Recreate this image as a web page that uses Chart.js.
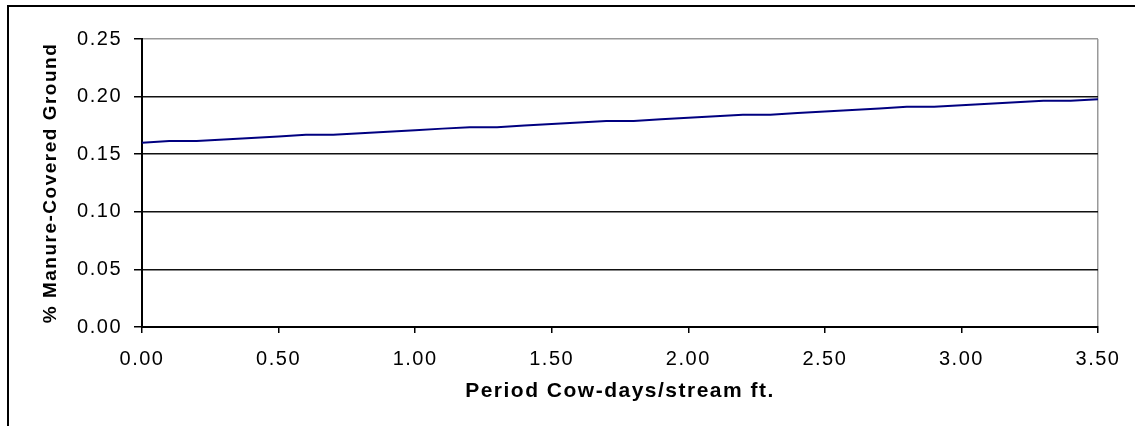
<!DOCTYPE html>
<html>
<head>
<meta charset="utf-8">
<script src="https://cdn.jsdelivr.net/npm/chart.js@4.4.0/dist/chart.umd.min.js"></script>
<style>
  html, body { margin: 0; padding: 0; background: #fff; }
  #wrap { position: relative; width: 1135px; height: 426px; overflow: hidden; }
  #frame {
    position: absolute; left: 7px; top: 5px; width: 1200px; height: 500px;
    border-left: 2px solid #000; border-top: 2px solid #000;
  }
  canvas { position: absolute; left: 0; top: 0; }
</style>
</head>
<body>
<div id="wrap">
  <div id="frame"></div>
  <canvas id="chart" width="1135" height="426"></canvas>
</div>
<script>
// period cow-days per stream foot
const cowDays = [0.0, 0.1, 0.2, 0.3, 0.4, 0.5, 0.6, 0.7, 0.8, 0.9,
                 1.0, 1.1, 1.2, 1.3, 1.4, 1.5, 1.6, 1.7, 1.8, 1.9,
                 2.0, 2.1, 2.2, 2.3, 2.4, 2.5, 2.6, 2.7, 2.8, 2.9,
                 3.0, 3.1, 3.2, 3.3, 3.4, 3.5];
// fraction of ground covered by manure
const manureCovered = [0.1600, 0.1614, 0.1614, 0.1627, 0.1641, 0.1654, 0.1668, 0.1668, 0.1681, 0.1695,
                       0.1708, 0.1722, 0.1735, 0.1735, 0.1749, 0.1762, 0.1776, 0.1789, 0.1789, 0.1803,
                       0.1816, 0.1830, 0.1843, 0.1843, 0.1857, 0.1870, 0.1884, 0.1897, 0.1911, 0.1911,
                       0.1924, 0.1938, 0.1951, 0.1965, 0.1965, 0.1978];

const yTitle = "% Manure-Covered Ground";
const xTitle = "Period Cow-days/stream ft.";

const FONT = "'Liberation Sans', Arial, sans-serif";

// the original text is set a bit wider than plain Arial
const wideText = {
  id: "wideText",
  beforeDraw(chart) {
    chart.ctx.letterSpacing = "1.5px";
  },
};

const ctx = document.getElementById("chart").getContext("2d");
const points = cowDays.map((x, i) => ({ x: x, y: manureCovered[i] }));

new Chart(ctx, {
  type: "line",
  data: {
    datasets: [
      {
        data: points,
        borderColor: "#000080",
        borderWidth: 2,
        pointRadius: 0,
        tension: 0,
      },
    ],
  },
  options: {
    responsive: false,
    animation: false,
    layout: { padding: { left: 0, top: 39, right: 37, bottom: 0 } },
    plugins: {
      legend: { display: false },
      tooltip: { enabled: false },
    },
    scales: {
      x: {
        type: "linear",
        min: 0,
        max: 3.5,
        afterFit: (scale) => { scale.height = 99; },
        ticks: {
          stepSize: 0.5,
          color: "#000",
          padding: 14,
          maxRotation: 0,
          font: { family: FONT, size: 20 },
          callback: (v) => Number(v).toFixed(2),
        },
        grid: {
          drawOnChartArea: true,
          tickLength: 6,
          tickColor: "#000",
          lineWidth: 1.5,
          color: (c) => (c.tick && c.tick.value === 3.5 ? "#999" : "rgba(0,0,0,0)"),
        },
        border: { color: "#000", width: 2 },
        title: {
          display: true,
          text: xTitle,
          color: "#000",
          padding: { top: 0, bottom: 22 },
          font: { family: FONT, size: 21, weight: "bold" },
        },
      },
      y: {
        min: 0,
        max: 0.25,
        afterFit: (scale) => { scale.width = 142; },
        ticks: {
          stepSize: 0.05,
          color: "#000",
          padding: 12,
          font: { family: FONT, size: 20 },
          callback: (v) => Number(v).toFixed(2),
        },
        grid: {
          tickLength: 8,
          tickColor: "#000",
          lineWidth: 1.5,
          color: (c) => (c.tick && c.tick.value === 0.25 ? "#999" : "#111"),
        },
        border: { color: "#000", width: 2 },
        title: {
          display: true,
          text: yTitle,
          color: "#000",
          padding: { top: 39, bottom: 0 },
          font: { family: FONT, size: 19, weight: "bold" },
        },
      },
    },
  },
  plugins: [wideText],
});
</script>
</body>
</html>
